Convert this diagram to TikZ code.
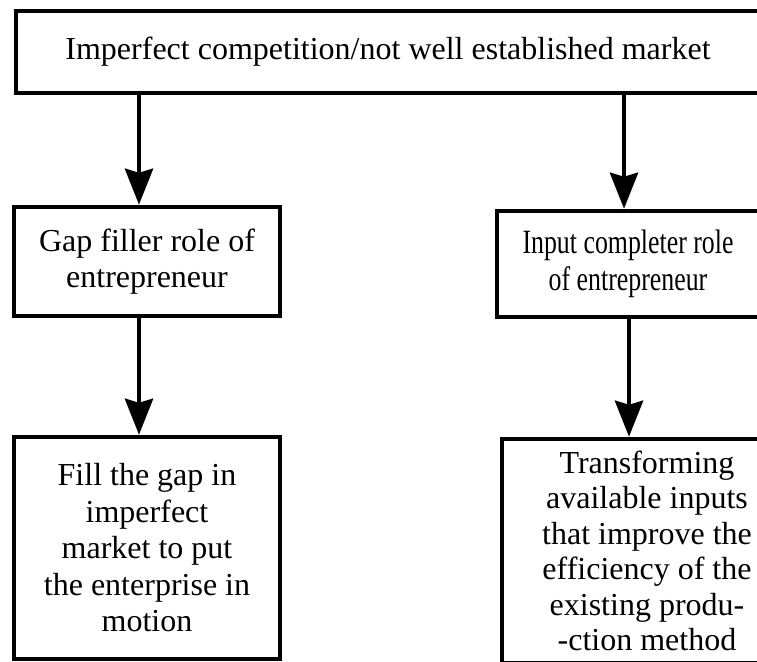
\documentclass[tikz,border=0pt]{standalone}
\usepackage{fontspec}
\setmainfont{Liberation Serif}
\newfontfamily\narrowserif[FakeStretch=0.76]{Liberation Serif}
\usetikzlibrary{arrows.meta}
\tikzset{
  box/.style={draw, rectangle, line width=4.5pt, align=center, inner sep=0pt,
    font=\fontsize{32pt}{36.5pt}\selectfont},
  arr/.style={line width=4.5pt, -{Stealth[length=36pt,width=28pt,inset=4pt]}}
}
\begin{document}
\begin{tikzpicture}[x=1pt,y=1pt]
      \clip (0,0) rectangle (757,-661);
      % Boxes
      \node[box, minimum width=744pt, minimum height=82pt] (market) at (388,-52) {Imperfect competition/not well established market};
      \node[box, minimum width=266pt, minimum height=109pt] (gap) at (147,-261.5) {Gap filler role of\\entrepreneur};
      \node[box, minimum width=262pt, minimum height=106pt, font=\narrowserif\fontsize{34pt}{37pt}\selectfont] (input) at (628,-264) {Input completer role\\of entrepreneur};
      \node[box, minimum width=266pt, minimum height=222pt] (fill) at (147,-548) {Fill the gap in\\imperfect\\market to put\\the enterprise in\\motion};
      \node[box, minimum width=290pt, minimum height=224pt, font=\fontsize{32pt}{35.5pt}\selectfont] (transform) at (647,-551) {Transforming\\available inputs\\that improve the\\efficiency of the\\existing produ-\\-ction method};

      % Arrows
      \draw[arr] ([xshift=-8pt]market.south -| gap.north) -- ([xshift=-8pt]gap.north);
      \draw[arr] ([xshift=-4pt]market.south -| input.north) -- ([xshift=-4pt]input.north);
      \draw[arr] ([xshift=-8pt]gap.south) -- ([xshift=-8pt]fill.north);
      \draw[arr] ([xshift=1pt]input.south) -- ([xshift=1pt]input.south |- transform.north);
    \end{tikzpicture}
\end{document}
